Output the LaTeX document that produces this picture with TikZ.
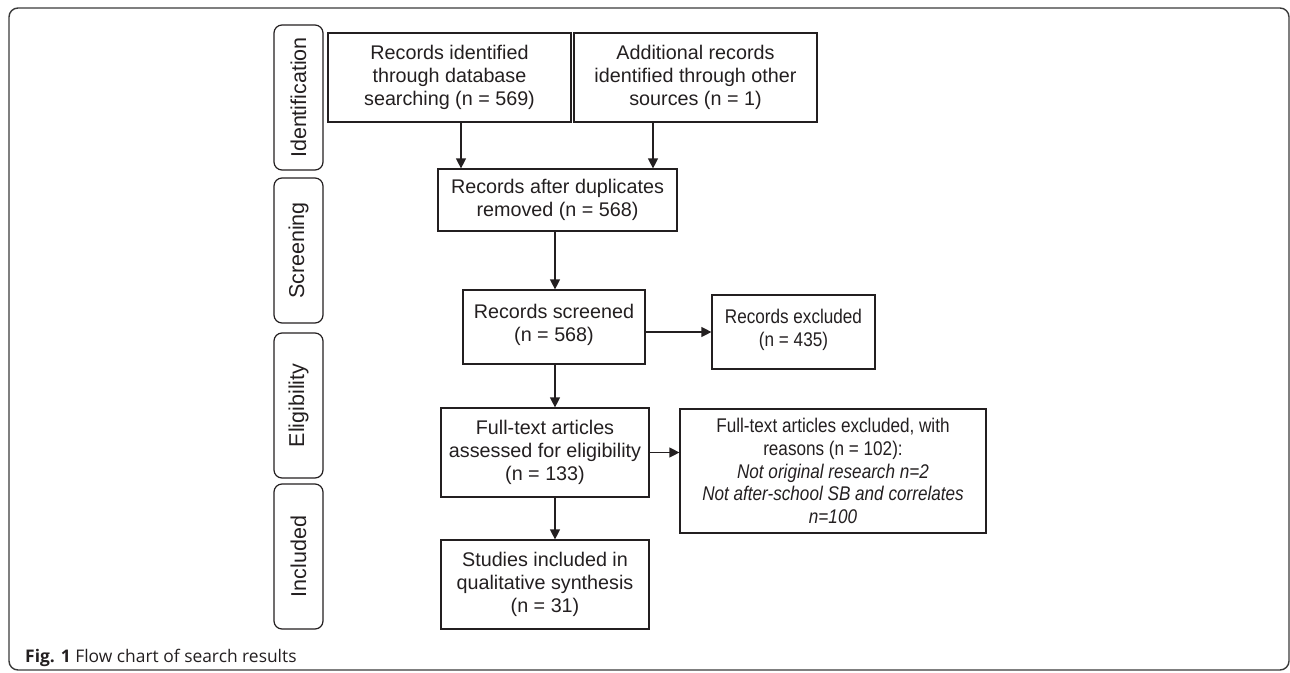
\documentclass[tikz,border=0pt]{standalone}
\usepackage{fontspec}
\setmainfont{Liberation Sans}
\newfontfamily\capfont{Open Sans}
\newfontfamily\narrowfont[FakeStretch=0.865]{Liberation Sans}
\usetikzlibrary{arrows.meta,calc}
\definecolor{ink}{HTML}{231F20}
\definecolor{frame}{HTML}{3A3A3A}
\tikzset{
  box/.style={draw=ink, line width=1.2pt, align=center, inner sep=2pt,
    font=\fontsize{19.75}{22.7}\selectfont, text=ink},
  narrowbox/.style={box, font=\narrowfont\fontsize{19.8}{22.7}\selectfont},
  side/.style={draw=ink, line width=1.2pt, rounded corners=8pt,
    minimum width=49pt, minimum height=145pt},
  sidetext/.style={rotate=90, font=\fontsize{21.5}{24}\selectfont, text=ink},
  arr/.style={draw=ink, line width=1.2pt, -{Triangle[length=10pt,width=10pt]}}
}
\newcommand{\pushup}{\\[-14.7pt]\mbox{}}
\begin{document}
\begin{tikzpicture}[x=1pt,y=-1pt]
\useasboundingbox (0,0) rectangle (1290,672);
\draw[frame, line width=1.4pt, rounded corners=9pt] (9,8) rectangle (1289,670);

% side labels
\node[side] (s1) at (298.5,97.5) {};
\node[sidetext] (t1) at (s1.center) {Identification};
\node[side] (s2) at (298.5,250.5) {};
\node[sidetext] (t2) at (s2.center) {Screening};
\node[side] (s3) at (298.5,405.5) {};
\node[sidetext] (t3) at (s3.center) {Eligibility};
\node[side] (s4) at (298.5,556.5) {};
\node[sidetext] (t4) at (s4.center) {Included};

% boxes
\node[box, minimum width=243pt, minimum height=89pt] (b1) at (449.5,77.5)
  {Records identified\\through database\\searching (n = 569)};
\node[box, minimum width=243pt, minimum height=89pt] (b2) at (695.5,77.5)
  {Additional records\\identified through other\\sources (n = 1)};
\node[box, minimum width=239pt, minimum height=62pt] (b3) at (557.5,200)
  {Records after duplicates\\removed (n = 568)};
\node[box, minimum width=182pt, minimum height=74pt] (b4) at (554,327)
  {Records screened\\(n = 568)\pushup};
\node[narrowbox, minimum width=163pt, minimum height=74pt] (b5) at (793.5,332)
  {Records excluded\\(n = 435)\pushup};
\node[box, minimum width=208pt, minimum height=89pt] (b6) at (545,452.5)
  {Full-text articles\\assessed for eligibility\\(n = 133)};
\node[narrowbox, minimum width=306pt, minimum height=124pt] (b7) at (833,471)
  {Full-text articles excluded, with\\reasons (n = 102):\\\textit{Not original research n=2}\\\textit{Not after-school SB and correlates}\\\textit{n=100}};
\node[box, minimum width=208pt, minimum height=89pt] (b8) at (545,584.5)
  {Studies included in\\qualitative synthesis\\(n = 31)};

% helper coordinates
\coordinate (c1) at (461,0);
\coordinate (c2) at (653,0);
\coordinate (c3) at (555,0);

% connectors
\draw[arr] (b1.south -| c1) -- (b3.north -| c1);
\draw[arr] (b2.south -| c2) -- (b3.north -| c2);
\draw[arr] (b3.south -| c3) -- (b4.north -| c3);
\draw[arr] (b4.east |- b5.west) -- (b5.west);
\draw[arr] (b4.south -| c3) -- (b6.north -| c3);
\draw[arr] (b6.east) -- (b6.east -| b7.west);
\draw[arr] (b6.south -| c3) -- (b8.north -| c3);

% caption
\node[anchor=base west, inner sep=0pt, font=\capfont\fontsize{17.4}{19}\selectfont, text=ink] (cap) at (25,662)
  {\textbf{Fig. 1} Flow chart of search results};
\end{tikzpicture}
\end{document}
